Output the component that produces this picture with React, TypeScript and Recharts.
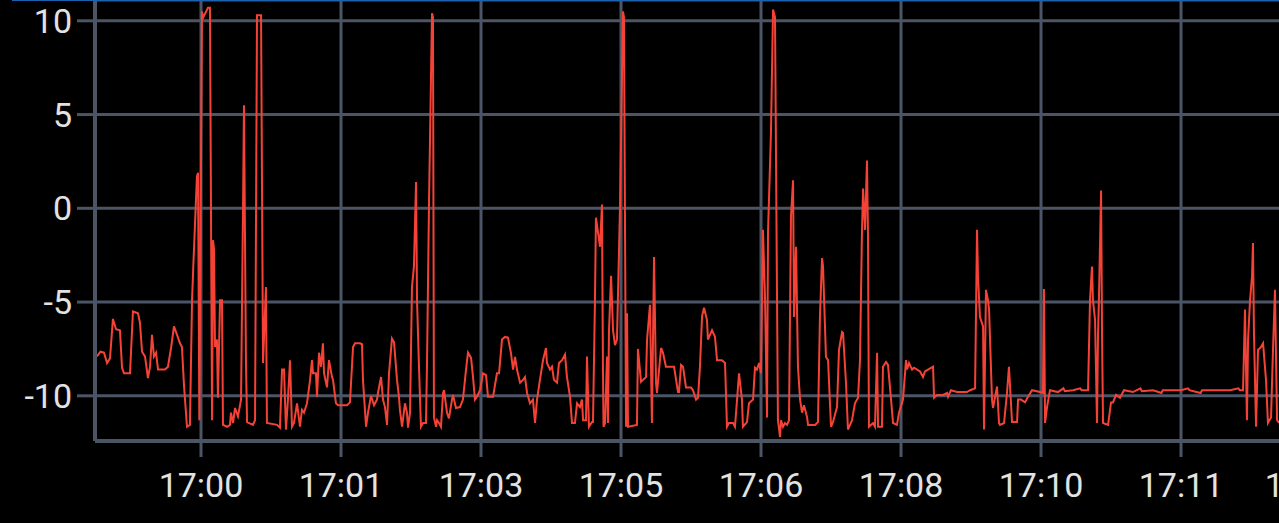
import * as React from "react";
import { LineChart, Line, XAxis, YAxis, CartesianGrid } from "recharts";

// seconds relative to 17:00:00, value
type Sample = [number, number];

const before1700: Sample[] = [
  [-74.3, -7.9], [-71.8, -7.65], [-69.3, -7.7], [-67.1, -8.25], [-65, -8.0], [-62.9, -5.9],
  [-60.7, -6.45], [-57.9, -6.5], [-56.4, -8.5], [-55, -8.8], [-50.7, -8.8], [-48.6, -5.5],
  [-45, -5.6], [-43.6, -6.1], [-42.1, -7.65], [-40, -7.9], [-37.9, -9.05], [-36.4, -8.45],
  [-35, -6.75], [-33.6, -7.9], [-32.1, -7.7], [-30.7, -8.6], [-25.7, -8.6], [-23.6, -8.45],
  [-21.4, -7.45], [-19.3, -6.3], [-17.1, -6.75], [-15, -7.2], [-13.6, -7.4], [-12.1, -9.5],
  [-10, -11.65], [-7.9, -11.55], [-6.4, -4.9], [-5.5, -3.1], [-2.9, 1.7], [-2.1, 1.9],
  [-1.2, -11.3]
];

const block0: Sample[] = [
  [0.7, 10.5], [1.4, 10.15], [5, 10.7], [6.4, 10.7], [7.9, -11.3], [8.6, -1.7], [9.3, -2.2],
  [10, -7.4], [11.4, -7.0], [12.1, -10.1], [13.6, -4.9], [15, -4.9], [15.7, -11.55],
  [18.6, -11.65], [20.7, -11.55], [21.4, -10.9], [22.9, -11.45], [24.3, -10.65], [26.4, -11.1],
  [28.6, -10.2], [30, -0.1], [30.7, 5.5], [32.1, -8.1], [32.9, -11.4], [37.1, -11.55],
  [38.6, -11.3], [40, 10.3], [42.9, 10.3], [44.3, -8.25], [46.4, -4.2], [47.1, -11.45],
  [54.3, -11.55], [56.4, -11.7], [57.9, -8.6], [59.3, -8.6], [60.7, -11.8], [62.1, -10.2],
  [63.6, -8.1], [65, -11.65], [66.4, -11.45], [68.6, -10.4], [70.7, -11.65], [72.1, -10.75],
  [73.6, -10.9], [75.7, -10.4], [77.9, -9.15], [79.3, -8.1], [80, -8.8], [82.1, -8.8],
  [82.9, -10.05], [84.3, -7.7], [85.7, -8.45], [87.1, -7.2], [87.9, -8.8], [90, -9.55],
  [91.4, -8.1], [93.6, -9.0], [94.3, -9.15], [96.4, -10.4], [97.9, -10.5]
];

const block1: Sample[] = [
  [104.3, -10.5], [106.4, -10.35], [108.6, -7.4], [110, -7.2], [113.6, -7.2], [115, -7.25],
  [115.7, -9.15], [117.9, -11.65], [119.3, -10.9], [121.4, -10.0], [123.6, -10.5],
  [125.7, -10.2], [126.4, -9.85], [128.6, -9.0], [130, -10.2], [131.4, -10.6], [132.9, -11.55],
  [134.3, -8.8], [136.4, -6.95], [137.9, -7.15], [140, -9.15], [141.4, -10.05], [142.1, -10.75],
  [143.6, -11.65], [145.7, -10.4], [147.1, -10.9], [147.9, -11.7], [149.3, -10.9],
  [150.7, -4.2], [152.1, -3.1], [153.6, 1.4], [154.3, -4.9], [155.7, -8.45], [157.1, -11.65],
  [158.6, -11.45], [160.7, -11.45], [161.4, -8.45], [162.9, 0.45], [165, 10.4], [165.7, 10.2],
  [166.4, -11.15], [167.9, -11.65], [168.6, -11.3], [170, -11.45], [171.4, -11.65],
  [172.9, -9.85], [173.6, -9.7], [175.7, -10.9], [177.1, -11.2], [179.3, -10.2], [180, -9.95],
  [182.1, -10.65], [185, -10.6], [187.1, -10.2], [189.3, -8.6], [190.7, -7.7], [192.9, -7.98],
  [194.3, -9.0], [195.7, -10.2], [197.1, -10.05], [199.3, -9.7]
];

const block2: Sample[] = [
  [201.4, -8.8], [203.6, -8.9], [205, -10.05], [208.6, -10.05], [211.4, -8.8], [212.9, -8.8],
  [215, -7.0], [217.1, -6.86], [219.3, -6.9], [221.4, -7.72], [222.9, -8.6], [224.3, -7.93],
  [225.7, -8.6], [227.9, -9.3], [230, -9.15], [231.4, -9.0], [232.9, -9.85], [235, -10.4],
  [237.1, -10.2], [238.6, -11.45], [240, -10.2], [242.1, -9.15], [244.3, -8.1], [246.4, -7.45],
  [247.1, -8.25], [249.3, -8.6], [250.7, -8.45], [252.1, -9.15], [254.3, -9.3], [255.7, -8.25],
  [257.9, -8.1], [260, -7.8], [261.4, -9.0], [263.6, -10.05], [265, -11.45], [267.1, -11.45],
  [268.6, -10.4], [270.7, -10.6], [272.1, -10.2], [272.9, -11.3], [275, -11.3], [275.7, -7.9],
  [277.1, -11.65], [279.3, -11.4], [280, -11.4], [281.4, -4.9], [282.1, -0.5], [283.6, -1.3],
  [285, -2.05], [286.4, 0.2], [287.1, -8.45], [287.5, -11.65], [288.6, -11.45], [290, -7.9],
  [290.7, -11.45], [291.4, -6.6], [292.9, -3.6], [294.3, -6.5], [295.7, -7.3], [297.1, -7.0],
  [299.3, 0.1]
];

const block3: Sample[] = [
  [301.4, 10.5], [302.1, 10.2], [303.6, -11.65], [304.3, -5.6], [305, -11.65], [311.4, -11.55],
  [312.1, -7.5], [314.3, -9.25], [315.7, -9.15], [317.9, -9.0], [318.6, -7.0], [320.7, -5.15],
  [322.1, -11.45], [322.9, -6.65], [323.6, -2.6], [325, -9.3], [325.7, -9.85], [328.6, -7.45],
  [330, -7.7], [332.1, -8.45], [337.9, -8.45], [340.7, -9.8], [341.4, -9.8], [342.9, -8.35],
  [344.3, -8.45], [346.4, -9.55], [350, -9.55], [351.4, -9.7], [353.6, -10.2], [355, -10.1],
  [356.4, -8.45], [357.9, -5.75], [359.3, -5.3], [361.4, -5.95], [362.1, -7.0], [365, -6.5],
  [367.1, -6.85], [368.6, -8.1], [372.1, -8.1], [374.3, -8.25], [375.7, -11.65],
  [377.1, -11.45], [380, -11.45], [381.4, -11.65], [382.9, -10.2], [384.3, -8.8],
  [386.4, -10.2], [387.1, -11.65], [390, -11.4], [391.4, -10.4], [394.3, -10.2], [395.7, -8.5],
  [397.1, -8.6], [398.6, -8.25], [400, -8.8]
];

const block4: Sample[] = [
  [401.4, -1.15], [402.9, -4.9], [404.3, -11.15], [405, -1.3], [407.1, 4.0], [408.6, 10.6],
  [410, 10.2], [411.4, -4.35], [412.1, -11.3], [413.6, -12.2], [414.3, -11.3], [415.7, -11.65],
  [417.1, -11.45], [418.6, -11.55], [420, -11.3], [421.4, -0.45], [422.9, 1.5], [423.6, -5.8],
  [425, -2.05], [426.4, -8.45], [427.9, -10.2], [429.3, -10.9], [430.7, -10.5], [432.9, -11.15],
  [433.6, -11.55], [438.6, -11.55], [440.7, -11.4], [442.1, -5.8], [443.6, -2.65],
  [444.3, -3.1], [446.4, -7.93], [447.9, -8.1], [450, -11.65], [451.4, -11.4], [454.3, -10.6],
  [455.7, -7.55], [457.9, -6.6], [458.6, -6.65], [460.7, -9.3], [462.1, -11.8], [465, -11.3],
  [467.1, -10.4], [469.3, -10.1], [470.7, -8.1], [472.1, -1.3], [472.9, 1.05], [474.3, -1.15],
  [475.7, 2.55], [476.4, -1.3], [477.1, -11.65], [480, -11.45], [481.4, -11.65], [482.9, -7.7],
  [483.6, -11.65], [486.4, -11.65], [487.1, -8.45], [489.3, -8.2], [490.7, -8.35],
  [492.9, -10.2], [494.3, -11.45], [497.1, -11.55], [498.6, -10.9]
];

const block5: Sample[] = [
  [501.4, -10.2], [503.6, -8.1], [504.3, -8.6], [505.7, -8.25], [507.9, -8.6], [509.3, -8.5],
  [513.6, -8.7], [515.7, -9.0], [517.1, -8.7], [519.3, -8.6], [522.9, -8.45], [523.6, -10.1],
  [525.7, -9.95], [530, -9.95], [532.9, -9.85], [533.6, -10.05], [535.7, -9.7], [540, -9.8],
  [547.1, -9.8], [549.3, -9.7], [552.9, -9.6], [554.3, -1.15], [555, -3.65], [556.4, -5.8],
  [558.6, -6.3], [559.3, -11.8], [560.7, -4.35], [562.1, -4.9], [562.9, -5.4], [565, -10.2],
  [565.7, -10.65], [568.6, -9.5], [570, -11.45], [570.7, -11.55], [573.6, -11.45],
  [575.7, -9.85], [577.1, -8.45], [579.3, -11.4], [582.9, -11.4], [583.6, -10.2],
  [585.7, -10.2], [588.6, -10.35], [590.7, -10.05], [593.6, -9.7], [599.3, -9.8]
];

const block6: Sample[] = [
  [601.4, -9.85], [602.1, -4.3], [602.9, -11.45], [604.3, -10.6], [606.4, -9.7], [612.1, -9.8],
  [616, -9.6], [617, -9.75], [622.9, -9.7], [628, -9.6], [629, -9.7], [633.6, -9.7],
  [635, -4.9], [636.4, -3.1], [637.1, -4.9], [638.6, -5.95], [640, -11.45], [640.7, -6.85],
  [641.4, -4.75], [642.9, 0.95], [643.6, -6.85], [644.3, -11.45], [647.9, -11.55],
  [650, -10.35], [651.4, -10.35], [653.6, -9.95], [656.4, -10.1], [659.3, -9.7], [665.7, -9.8],
  [671, -9.6], [672, -9.75], [680, -9.7], [686, -9.85], [687, -9.7], [700, -9.7]
];

const block7: Sample[] = [
  [705, -9.6], [706, -9.7], [714, -9.85], [715, -9.7], [735, -9.7], [741, -9.6], [742, -9.7],
  [744.3, -9.7], [745.7, -5.4], [747.1, -11.3], [747.9, -7.0], [749.3, -4.9], [750.7, -3.65],
  [751.4, -1.85], [752.1, -6.65], [753.6, -11.65], [755, -7.55], [757.1, -7.4], [758.6, -7.2],
  [760.7, -9.15], [762.1, -11.45], [764.3, -11.15], [765.7, -7.55], [767.1, -4.35],
  [768.6, -11.3], [770, -11.45]
];

const xTicks: number[] = [0, 100, 200, 300, 400, 500, 600, 700, 790];
const yTicks: number[] = [-10, -5, 0, 5, 10];

const data = [
  ...before1700, ...block0, ...block1, ...block2, ...block3,
  ...block4, ...block5, ...block6, ...block7
].map(([t, v]) => ({ t, v }));

const formatTime = (s: number): string => {
  const total = 17 * 3600 + s;
  const h = Math.floor(total / 3600);
  const m = Math.floor((total % 3600) / 60);
  return `${h}:${String(m).padStart(2, "0")}`;
};

const gridColor = "#4b5566";
const textColor = "#e2e2e2";

const App: React.FunctionComponent = () => {
  return (
    <div
      style={{
        position: "absolute",
        left: 0,
        top: 0,
        width: 1279,
        height: 523,
        overflow: "hidden",
        background: "#000"
      }}
    >
      <LineChart
        width={1420}
        height={523}
        data={data}
        margin={{ top: 0, right: 0, left: 0, bottom: 0 }}
      >
        <CartesianGrid stroke={gridColor} strokeWidth={3} />
        <XAxis
          dataKey="t"
          type="number"
          domain={[-75.71, 870.7]}
          allowDataOverflow
          ticks={xTicks}
          interval={0}
          tickFormatter={formatTime}
          height={82}
          tickSize={16}
          tickMargin={16}
          axisLine={{ stroke: gridColor, strokeWidth: 4 }}
          tickLine={{ stroke: gridColor, strokeWidth: 3 }}
          tick={{ fill: textColor, fontSize: 34, fontFamily: "Roboto" }}
        />
        <YAxis
          type="number"
          domain={[-12.41, 11.11]}
          allowDataOverflow
          ticks={yTicks}
          interval={0}
          width={95}
          tickSize={18}
          tickMargin={5}
          axisLine={{ stroke: gridColor, strokeWidth: 4 }}
          tickLine={{ stroke: gridColor, strokeWidth: 3 }}
          tick={{ fill: textColor, fontSize: 34, fontFamily: "Roboto" }}
        />
        <Line
          isAnimationActive={false}
          type="linear"
          dataKey="v"
          stroke="#f44336"
          strokeWidth={2}
          dot={false}
        />
      </LineChart>
      <div
        style={{
          position: "absolute",
          left: 12,
          right: 0,
          top: 0,
          height: 1,
          background: "#1a62b0",
          zIndex: 2
        }}
      />
    </div>
  );
};

export default App;
